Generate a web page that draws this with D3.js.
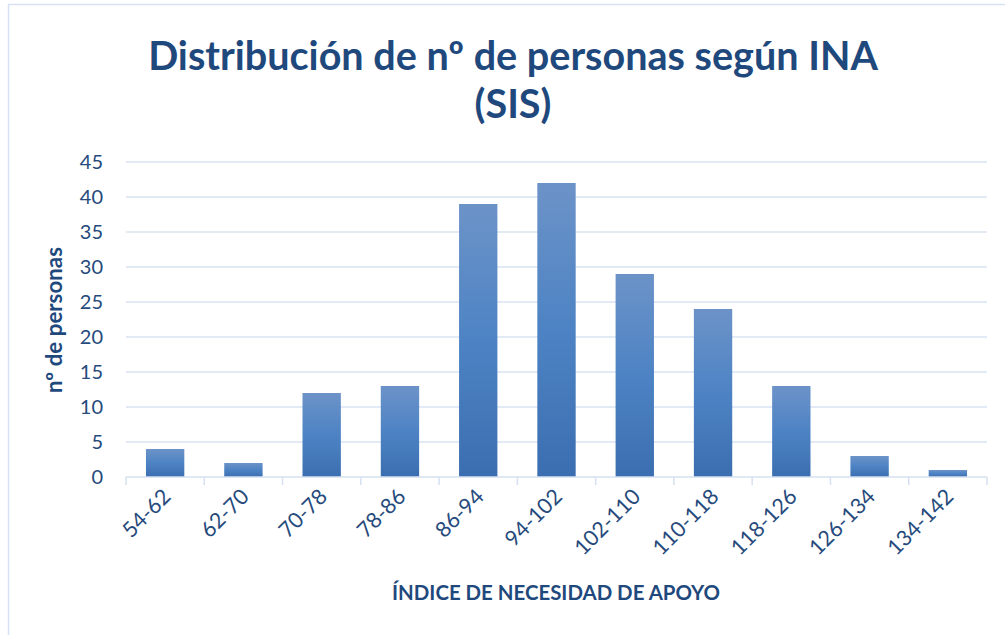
<!DOCTYPE html>
<html>
<head>
<meta charset="utf-8">
<script src="https://cdn.jsdelivr.net/npm/d3@7"></script>
<style>
 body { margin: 0; background: #fff; }
 text { font-family: Lato, "Open Sans", sans-serif; }
</style>
</head>
<body>
<script>

 // Data
 var categories = ["54-62","62-70","70-78","78-86","86-94","94-102","102-110","110-118","118-126","126-134","134-142"];
 var personas = [4, 2, 12, 13, 39, 42, 29, 24, 13, 3, 1];
 var yTicks = [0, 5, 10, 15, 20, 25, 30, 35, 40, 45];

 var W = 1005, H = 635;
 var margin = {top: 162, right: 18, bottom: 158, left: 126};
 var width = W - margin.left - margin.right;
 var height = H - margin.top - margin.bottom;

 var textColor = "#264a7c";
 var titleColor = "#1f497d";

 var svg = d3.select("body").append("svg")
	 .attr("width", W)
	 .attr("height", H);

 /**
  * scale font size of a text so it takes the wanted width
  */
 function fitText(sel, target){
	 var node = sel.node();
	 var fs = parseFloat(sel.style("font-size"));
	 var w = node.getComputedTextLength();
	 sel.style("font-size", (fs * target / w) + "px");
	 return sel;
 }

 // gradient for bars
 var defs = svg.append("defs");
 var grad = defs.append("linearGradient")
	 .attr("id", "barGrad")
	 .attr("x1", 0).attr("y1", 0).attr("x2", 0).attr("y2", 1);
 grad.append("stop").attr("offset", "0%").attr("stop-color", "#6c93c8");
 grad.append("stop").attr("offset", "50%").attr("stop-color", "#4d83c4");
 grad.append("stop").attr("offset", "100%").attr("stop-color", "#3b6eb0");

 // chart frame
 svg.append("rect")
	 .attr("x", 8.5).attr("y", 4.5)
	 .attr("width", W + 20).attr("height", H + 20)
	 .attr("fill", "none")
	 .attr("stroke", "#d6e2f3")
	 .attr("stroke-width", 1.5);

 var g = svg.append("g")
	 .attr("transform", "translate(" + margin.left + "," + margin.top + ")");

 var x = d3.scaleBand().domain(categories).range([0, width]).paddingInner(0.51).paddingOuter(0.255);
 var y = d3.scaleLinear().domain([0, 45]).range([height, 0]);

 // gridlines
 g.selectAll(".grid")
	 .data(yTicks.slice(1))
	 .enter().append("line")
	 .attr("x1", 0).attr("x2", width)
	 .attr("y1", function(d){ return y(d); })
	 .attr("y2", function(d){ return y(d); })
	 .attr("stroke", "#d9e3f3")
	 .attr("stroke-width", 1.5);

 // bars
 g.selectAll(".bar")
	 .data(personas)
	 .enter().append("rect")
	 .attr("x", function(d, i){ return x(categories[i]); })
	 .attr("y", function(d){ return y(d); })
	 .attr("width", x.bandwidth())
	 .attr("height", function(d){ return height - y(d); })
	 .attr("fill", "url(#barGrad)");

 // x axis
 var xAxis = g.append("g")
	 .attr("transform", "translate(0," + height + ")");
 xAxis.append("line")
	 .attr("x1", 0).attr("x2", width)
	 .attr("stroke", "#d6e0f0").attr("stroke-width", 1.5);
 var step = x.step();
 d3.range(categories.length + 1).forEach(function(i){
	 xAxis.append("line")
		 .attr("x1", i * step).attr("x2", i * step)
		 .attr("y1", 0).attr("y2", 8)
		 .attr("stroke", "#d6e0f0").attr("stroke-width", 1.5);
 });
 xAxis.selectAll(".xlab")
	 .data(categories)
	 .enter().append("text")
	 .attr("text-anchor", "end")
	 .attr("transform", function(d){
		 var cx = x(d) + x.bandwidth() / 2 + 7;
		 return "translate(" + cx + ",21) rotate(-45)";
	 })
	 .attr("fill", textColor)
	 .style("font-size", "21.5px")
	 .text(function(d){ return d; });

 // y axis labels
 g.selectAll(".ylab")
	 .data(yTicks)
	 .enter().append("text")
	 .attr("x", -23)
	 .attr("y", function(d){ return y(d); })
	 .attr("dy", "0.36em")
	 .attr("text-anchor", "end")
	 .attr("fill", textColor)
	 .style("font-size", "20px")
	 .text(function(d){ return d; });

 // title
 var t1 = svg.append("text")
	 .attr("x", 513).attr("y", 70)
	 .attr("text-anchor", "middle")
	 .attr("fill", titleColor)
	 .style("font-size", "34px")
	 .style("font-weight", "bold")
	 .text("Distribución de nº de personas según INA");
 fitText(t1, 730);
 svg.append("text")
	 .attr("x", 513).attr("y", 118)
	 .attr("text-anchor", "middle")
	 .attr("fill", titleColor)
	 .style("font-size", t1.style("font-size"))
	 .style("font-weight", "bold")
	 .text("(SIS)");

 // axis titles
 var yt = svg.append("text")
	 .attr("transform", "translate(62,320) rotate(-90)")
	 .attr("text-anchor", "middle")
	 .attr("fill", titleColor)
	 .style("font-size", "18px")
	 .style("font-weight", "bold")
	 .text("nº de personas");
 fitText(yt, 146);

 var xt = svg.append("text")
	 .attr("x", 556)
	 .attr("y", 600)
	 .attr("text-anchor", "middle")
	 .attr("fill", titleColor)
	 .style("font-size", "17px")
	 .style("font-weight", "bold")
	 .text("ÍNDICE DE NECESIDAD DE APOYO");
 fitText(xt, 328);

</script>
</body>
</html>
